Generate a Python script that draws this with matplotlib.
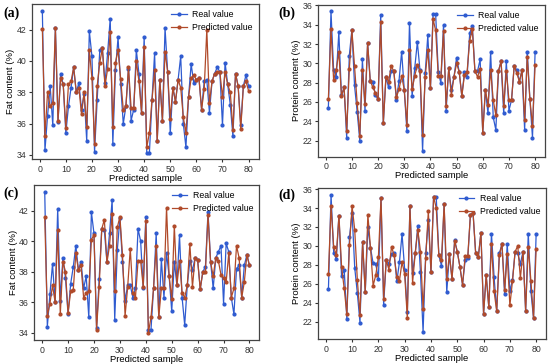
import matplotlib
matplotlib.use("Agg")
import matplotlib.pyplot as plt

plt.rcParams['font.family'] = ['Liberation Sans', 'DejaVu Sans']

samples = list(range(1, 81))

fat_real_a = [43.2, 34.3, 36.5, 38.4, 35.9, 42.1, 36.1, 39.2, 38.5, 35.4,
              37.1, 38.3, 39.6, 38.0, 38.6, 36.9, 37.9, 34.9, 41.9, 40.3,
              34.2, 37.5, 40.7, 40.8, 38.6, 40.5, 42.7, 34.7, 39.4, 41.5,
              38.5, 36.0, 37.1, 39.5, 36.2, 36.9, 40.7, 39.2, 36.7, 41.5,
              34.1, 34.1, 37.5, 40.5, 34.9, 38.8, 36.2, 42.1, 39.3, 35.4,
              38.3, 37.4, 38.8, 40.3, 36.0, 34.5, 37.7, 39.8, 38.6, 38.8,
              38.9, 36.9, 38.7, 38.8, 36.7, 38.7, 39.2, 39.6, 39.3, 35.9,
              39.9, 38.5, 37.2, 35.2, 39.2, 38.4, 35.9, 38.4, 39.1, 38.4]
fat_pred_a = [42.05, 35.2, 38.0, 37.1, 37.3, 42.1, 36.2, 38.9, 38.5, 35.7,
              38.5, 38.7, 39.6, 38.0, 38.3, 36.6, 38.0, 35.8, 40.7, 38.9,
              34.7, 38.4, 39.9, 40.8, 38.4, 39.5, 41.85, 35.8, 39.9, 40.7,
              38.85, 36.9, 37.1, 39.6, 37.0, 37.0, 40.0, 38.7, 36.7, 40.9,
              34.5, 35.4, 37.5, 39.4, 34.9, 38.8, 36.2, 40.6, 39.3, 36.3,
              38.3, 37.4, 38.8, 38.3, 36.4, 35.4, 37.7, 38.9, 39.1, 38.8,
              38.9, 36.9, 38.2, 42.0, 37.3, 38.7, 39.2, 39.3, 39.3, 37.7,
              39.3, 38.5, 38.0, 35.6, 39.2, 38.4, 35.65, 38.4, 38.7, 38.1]

fat_real_c = [43.2, 34.4, 36.5, 38.5, 36.0, 42.1, 36.1, 38.9, 37.6, 35.2,
              37.2, 38.3, 39.7, 38.1, 38.65, 36.9, 37.7, 35.0, 41.9, 40.5,
              34.3, 37.5, 40.8, 40.7, 38.65, 40.5, 42.7, 34.85, 39.4, 41.5,
              38.6, 36.1, 37.1, 37.1, 36.3, 36.9, 40.8, 40.0, 36.9, 41.6,
              34.2, 34.2, 36.95, 40.5, 35.0, 38.8, 36.3, 39.2, 37.7, 35.4,
              38.65, 37.1, 40.4, 36.3, 34.5, 37.1, 38.7, 38.1, 38.9, 38.75,
              36.85, 38.0, 38.3, 41.9, 38.65, 36.9, 38.9, 39.3, 39.7, 35.9,
              39.85, 39.3, 36.3, 35.2, 38.2, 38.4, 36.3, 38.4, 39.1, 38.4]
fat_pred_c = [41.6, 35.1, 35.9, 37.1, 36.0, 40.7, 35.2, 38.65, 38.0, 35.3,
              36.7, 36.8, 39.2, 38.1, 38.4, 36.3, 36.6, 36.7, 40.1, 40.4,
              34.2, 37.0, 40.8, 41.4, 38.6, 39.7, 41.8, 36.7, 40.9, 41.6,
              39.1, 35.1, 37.0, 39.5, 36.6, 36.3, 38.7, 38.7, 37.0, 41.3,
              34.0, 35.0, 36.95, 39.7, 35.0, 36.9, 36.9, 42.2, 37.7, 36.2,
              41.0, 37.1, 38.7, 36.6, 36.3, 37.1, 39.8, 37.0, 38.9, 38.75,
              36.85, 38.0, 38.0, 41.7, 38.6, 37.7, 38.9, 38.7, 37.8, 37.6,
              37.3, 39.2, 36.3, 36.9, 39.7, 38.9, 36.3, 37.3, 39.1, 38.4]

prot_real_b = [25.4, 35.4, 29.3, 28.6, 33.2, 26.7, 27.5, 22.3, 30.8, 33.5,
               27.7, 25.0, 22.0, 30.4, 25.1, 32.1, 28.2, 28.1, 26.7, 26.3,
               35.0, 23.8, 28.6, 27.5, 29.2, 29.2, 26.2, 28.2, 31.2, 27.25,
               23.0, 34.2, 26.6, 29.5, 32.2, 29.3, 20.9, 29.0, 32.9, 27.4,
               35.1, 35.1, 29.05, 27.95, 34.0, 25.1, 29.5, 27.2, 28.6, 30.6,
               29.1, 26.6, 29.05, 28.6, 33.1, 33.9, 29.2, 29.2, 30.4, 22.8,
               27.25, 24.8, 31.2, 24.4, 23.1, 29.2, 30.2, 24.8, 30.2, 25.1,
               26.2, 29.7, 29.3, 28.1, 29.3, 23.1, 31.2, 26.3, 22.3, 31.2]
prot_pred_b = [26.3, 33.6, 28.3, 29.3, 31.2, 26.6, 27.5, 23.0, 29.4, 33.4,
               29.7, 25.9, 22.5, 29.3, 25.8, 32.1, 28.2, 27.5, 26.9, 26.3,
               34.3, 23.8, 28.6, 28.1, 29.7, 29.2, 26.5, 27.3, 28.7, 27.25,
               23.6, 31.4, 27.3, 28.7, 29.8, 29.2, 22.6, 28.6, 31.4, 27.4,
               34.6, 33.4, 28.7, 28.7, 33.3, 25.6, 29.5, 26.7, 28.6, 30.0,
               29.1, 26.6, 28.8, 29.1, 32.3, 33.6, 29.2, 28.6, 29.4, 22.8,
               27.25, 25.7, 29.3, 26.2, 24.6, 29.2, 30.2, 25.6, 29.2, 26.2,
               26.2, 29.7, 29.0, 28.1, 29.3, 24.1, 30.7, 26.3, 23.5, 29.85]

prot_real_d = [25.4, 35.4, 29.3, 28.6, 33.2, 26.8, 27.5, 22.3, 30.9, 33.5,
               27.7, 25.0, 21.9, 30.4, 25.1, 31.95, 29.8, 28.15, 28.1, 26.5,
               35.05, 23.8, 28.5, 28.1, 29.1, 29.2, 26.25, 28.25, 31.25, 27.5,
               23.0, 34.2, 27.1, 29.2, 32.1, 27.2, 20.9, 29.2, 32.7, 27.2,
               35.2, 35.2, 29.0, 27.9, 34.4, 25.1, 29.1, 26.5, 30.6, 29.4,
               27.8, 25.9, 28.5, 28.7, 33.3, 33.5, 29.2, 28.8, 31.4, 22.8,
               26.9, 23.5, 31.3, 26.7, 23.1, 29.2, 30.2, 24.9, 30.2, 25.2,
               26.4, 29.4, 29.2, 28.1, 29.4, 23.1, 31.3, 25.2, 22.35, 31.3]
prot_pred_d = [27.05, 34.2, 29.9, 29.0, 33.2, 27.8, 25.5, 22.8, 30.05, 34.2,
               31.7, 26.4, 22.7, 30.4, 25.1, 33.3, 29.8, 25.8, 26.9, 28.8,
               35.05, 24.4, 28.5, 27.5, 29.9, 29.0, 26.7, 26.3, 28.3, 27.0,
               22.4, 34.2, 26.1, 29.2, 31.7, 29.4, 23.3, 28.7, 33.7, 27.2,
               35.2, 34.0, 29.0, 28.5, 34.4, 26.5, 29.1, 26.5, 30.5, 29.4,
               27.8, 25.9, 28.9, 28.9, 33.3, 33.5, 29.2, 28.8, 31.4, 22.8,
               26.9, 23.5, 30.2, 25.2, 23.1, 29.0, 30.2, 25.3, 29.1, 23.7,
               26.3, 29.4, 30.0, 26.6, 29.4, 23.1, 29.9, 26.3, 22.35, 29.7]

blue = '#2f5bd0'
brown = '#b04a2a'

fig = plt.figure(figsize=(5.5, 3.64), dpi=100)

panels = [
    ('(a)', [0.058, 0.563, 0.412, 0.427], fat_real_a, fat_pred_a,
     'Fat content (%)', (33.74, 43.66), [34, 36, 38, 40, 42], (0.006, 0.955)),
    ('(b)', [0.578, 0.570, 0.413, 0.417], prot_real_b, prot_pred_b,
     'Protein content (%)', (20.34, 36.07), [22, 24, 26, 28, 30, 32, 34, 36], (0.506, 0.955)),
    ('(c)', [0.0625, 0.066, 0.409, 0.426], fat_real_c, fat_pred_c,
     'Fat content (%)', (33.52, 43.68), [34, 36, 38, 40, 42], (0.006, 0.46)),
    ('(d)', [0.578, 0.068, 0.415, 0.415], prot_real_d, prot_pred_d,
     'Protein content (%)', (20.13, 36.1), [22, 24, 26, 28, 30, 32, 34, 36], (0.506, 0.455)),
]

for tag, rect, real, pred, ylab, ylim, yticks, tpos in panels:
    ax = fig.add_axes(rect)
    ax.plot(samples, real, color=blue, lw=0.9, marker='o', ms=2.0, label='Real value')
    ax.plot(samples, pred, color=brown, lw=0.9, marker='o', ms=2.0, label='Predicted value')
    ax.set_xlim(-3.0, 83.8)
    ax.set_ylim(*ylim)
    ax.set_xticks([0, 10, 20, 30, 40, 50, 60, 70, 80])
    ax.set_yticks(yticks)
    ax.tick_params(labelsize=6.3, length=2.5, width=0.8, pad=1.5, colors='#333333')
    ax.set_xlabel('Predicted sample', fontsize=6.8, labelpad=0)
    ax.set_ylabel(ylab, fontsize=6.8, labelpad=1)
    for s in ax.spines.values():
        s.set_color('#444444')
        s.set_linewidth(0.9)
    ax.legend(loc='upper right', fontsize=6.3, frameon=False, handlelength=1.8,
              handletextpad=0.6, borderaxespad=0.3, labelspacing=0.45)
    fig.text(tpos[0], tpos[1], tag, fontsize=10, fontweight='bold',
             family=['Liberation Serif', 'DejaVu Serif'])

fig.savefig('out.png', dpi=100)
